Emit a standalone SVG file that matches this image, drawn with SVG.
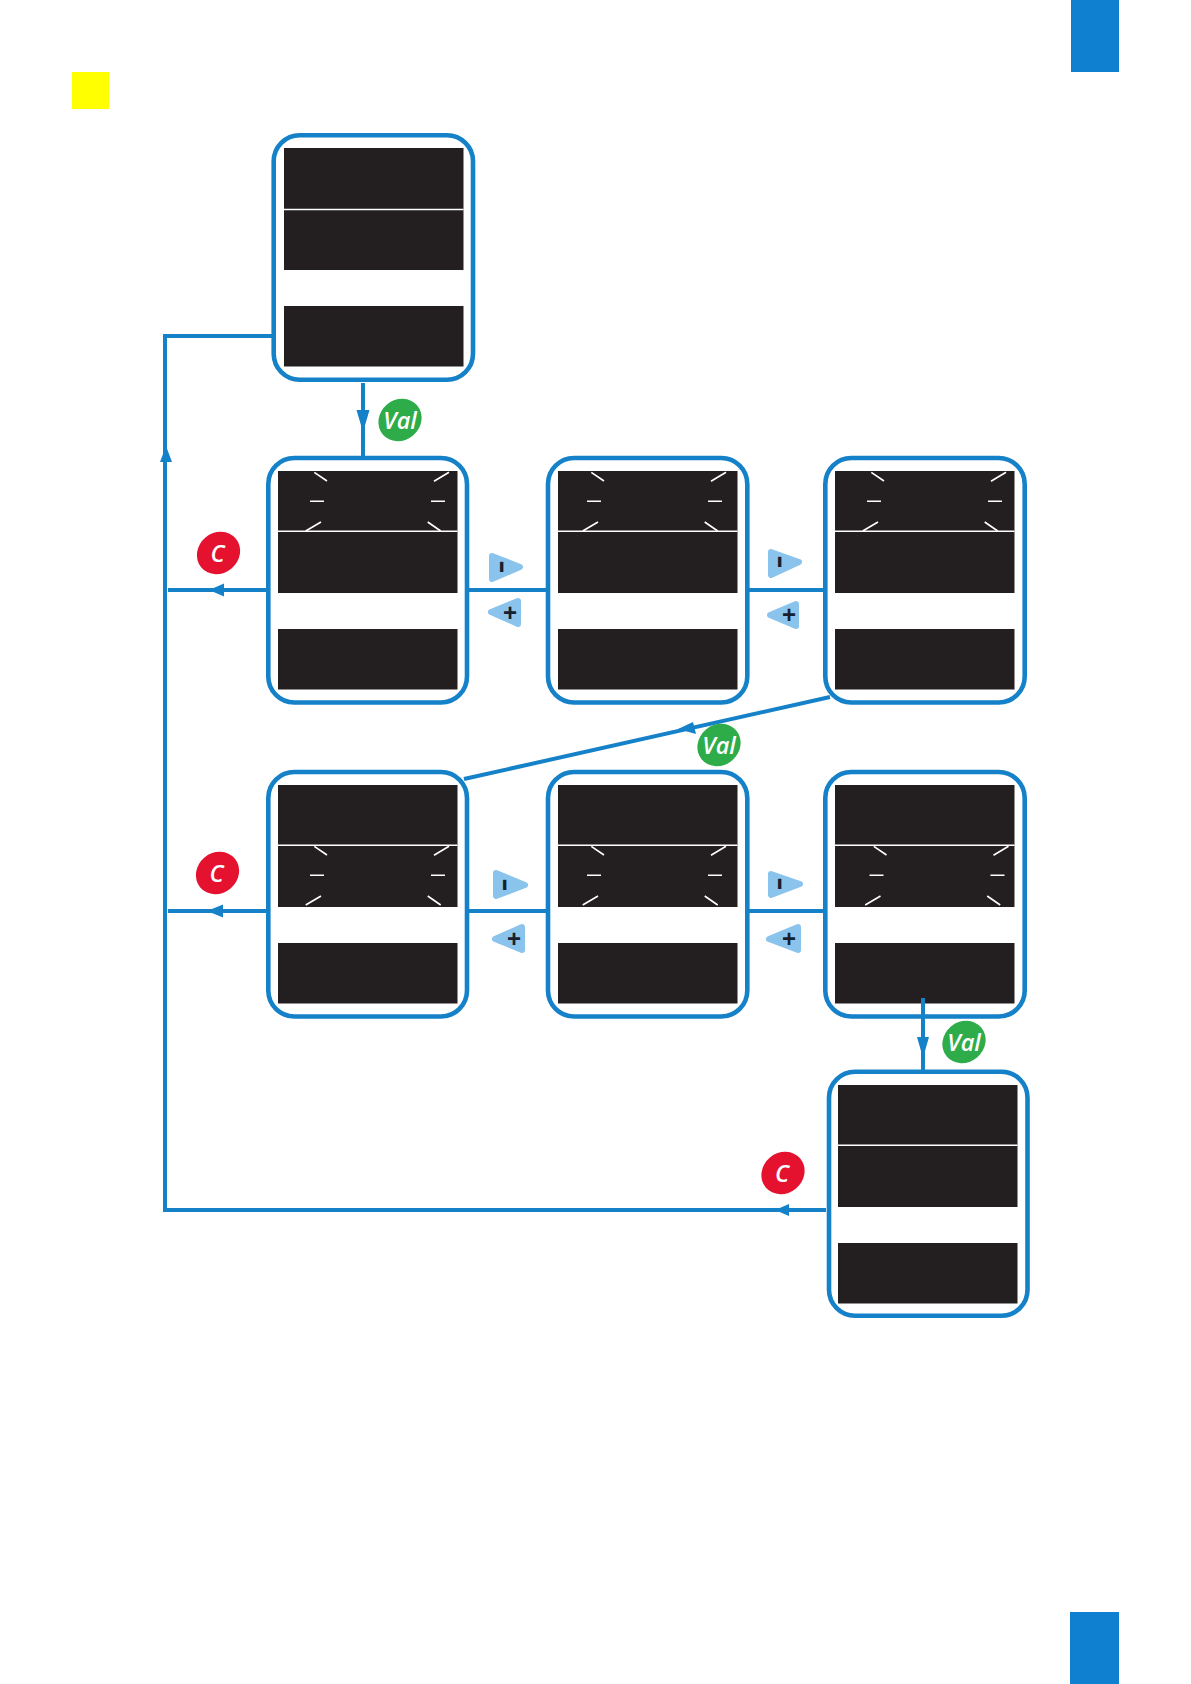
<svg xmlns="http://www.w3.org/2000/svg" width="1191" height="1684" viewBox="0 0 1191 1684">
<style>
.frame{fill:#fff;stroke:#1581c9;stroke-width:4.600}
.lcd{fill:#231f20}
.sep{stroke:#fff;stroke-width:1.400;fill:none}
.tick{stroke:#fff;stroke-width:1.600;fill:none}
.conn{stroke:#1581c9;stroke-width:4;fill:none}
.head{fill:#1581c9}
.green{fill:#2fac4a}
.red{fill:#e4112f}
.tri{fill:#8ac4ec;stroke:#8ac4ec;stroke-width:6;stroke-linejoin:round}
.bt{fill:#fff;font-family:"Open Sans","Noto Sans",sans-serif;font-style:italic;font-weight:600;text-anchor:middle;font-size:23.500px}
.pm{fill:#17202c;font-family:"Liberation Sans",sans-serif;font-weight:700;text-anchor:middle}
</style>
<defs>
<g id="panels">
<rect class="lcd" x="0" y="0" width="179.500" height="122"/>
<rect class="lcd" x="0" y="158" width="179.500" height="60.500"/>
</g>
<g id="screen">
<use href="#panels"/>
<path class="sep" d="M0 60.300H179.500"/>
</g>
<g id="ticks">
<path class="tick" d="M36.300 1.300L49 10M171 1.300L156 10.300M32 30.300H46M153 30.300H167M43 51L27.700 60M149.700 51L162.700 60"/>
</g>
</defs>
<rect x="1071" y="0" width="48" height="72" fill="#0f80cf"/>
<rect x="1070" y="1612" width="49" height="72" fill="#0f80cf"/>
<rect x="72" y="72" width="37" height="37" fill="#ffff00"/>
<g id="connectors">
<path class="conn" d="M273 336H165V1210H826"/>
<path class="conn" d="M363 383V456"/>
<path class="head" d="M356.500 410H369.500L363 432Z"/>
<path class="head" d="M166 446L172 462H160Z"/>
<path class="conn" d="M168 590H266"/>
<path class="head" d="M209 590L224 583.500V596.500Z"/>
<path class="conn" d="M469 590H547M747 590H824"/>
<path class="conn" d="M830 697L464 779"/>
<path class="head" d="M678 729L693 722L696 734Z"/>
<path class="conn" d="M168 911H266"/>
<path class="head" d="M207 911L223 904.500V917.500Z"/>
<path class="conn" d="M469 911H547M747 911H824"/>
<path class="conn" d="M923 998V1070"/>
<path class="head" d="M917 1037H929L923 1058Z"/>
<path class="head" d="M775 1210L789 1204V1216Z"/>
</g>
<g id="node-1"><rect class="frame" x="273.700" y="135.300" width="199.300" height="244.400" rx="26"/><use href="#panels" x="284" y="148"/><path class="sep" d="M284 209.500H463.500"/></g>
<g id="node-2"><rect class="frame" x="268.300" y="458" width="198.700" height="244.500" rx="26"/><use href="#screen" x="278" y="471"/><use href="#ticks" x="278" y="471"/></g>
<g id="node-3"><rect class="frame" x="548" y="458" width="199.300" height="244.500" rx="26"/><use href="#screen" x="558" y="471"/><use href="#ticks" x="555" y="471"/></g>
<g id="node-4"><rect class="frame" x="825.300" y="458" width="199.400" height="244.500" rx="26"/><use href="#screen" x="835" y="471"/><use href="#ticks" x="835" y="471"/></g>
<g id="node-5"><rect class="frame" x="268.300" y="772" width="198.700" height="244.500" rx="26"/><use href="#screen" x="278" y="785"/><use href="#ticks" x="278" y="845"/></g>
<g id="node-6"><rect class="frame" x="548" y="772" width="199.300" height="244.500" rx="26"/><use href="#screen" x="558" y="785"/><use href="#ticks" x="555" y="845"/></g>
<g id="node-7"><rect class="frame" x="825.300" y="772" width="199.400" height="244.500" rx="26"/><use href="#screen" x="835" y="785"/><use href="#ticks" x="837.500" y="845"/></g>
<path class="conn" d="M923 998V1016"/>
<g id="node-8"><rect class="frame" x="829" y="1071.700" width="198.500" height="244" rx="26"/><use href="#screen" x="838" y="1085"/></g>
<g id="badge-val-1"><ellipse class="green" cx="400" cy="420" rx="22.500" ry="20.300" transform="rotate(-40 400 420)"/><text class="bt" x="400" y="429">Val</text></g>
<g id="badge-val-2"><ellipse class="green" cx="719" cy="745" rx="22.500" ry="20.300" transform="rotate(-40 719 745)"/><text class="bt" x="719" y="754">Val</text></g>
<g id="badge-val-3"><ellipse class="green" cx="964" cy="1042" rx="22.500" ry="20.300" transform="rotate(-40 964 1042)"/><text class="bt" x="964" y="1051">Val</text></g>
<g id="badge-c-1"><ellipse class="red" cx="218.500" cy="553" rx="22.500" ry="20.300" transform="rotate(-40 218.500 553)"/><text class="bt" x="217.500" y="562">C</text></g>
<g id="badge-c-2"><ellipse class="red" cx="217.500" cy="873" rx="22.500" ry="20.300" transform="rotate(-40 217.500 873)"/><text class="bt" x="216.500" y="882">C</text></g>
<g id="badge-c-3"><ellipse class="red" cx="783" cy="1173" rx="22.500" ry="20.300" transform="rotate(-40 783 1173)"/><text class="bt" x="782" y="1182">C</text></g>
<g id="btn-minus-1"><path class="tri" d="M492 556L520 567L492 579Z"/><text class="pm" font-size="40" transform="translate(501.500 567) rotate(90) scale(1 .7)" x="0" y="10.800">-</text></g>
<g id="btn-plus-1"><path class="tri" d="M491 612L518 601V624Z"/><text class="pm" font-size="24" x="510" y="621">+</text></g>
<g id="btn-minus-2"><path class="tri" d="M771 552L799 562L771 575Z"/><text class="pm" font-size="40" transform="translate(780 562) rotate(90) scale(1 .7)" x="0" y="10.800">-</text></g>
<g id="btn-plus-2"><path class="tri" d="M770 615L796 604V626Z"/><text class="pm" font-size="24" x="789" y="623">+</text></g>
<g id="btn-minus-3"><path class="tri" d="M496 873L525 885L496 896Z"/><text class="pm" font-size="40" transform="translate(505 885) rotate(90) scale(1 .7)" x="0" y="10.800">-</text></g>
<g id="btn-plus-3"><path class="tri" d="M495 939L522 927V950Z"/><text class="pm" font-size="24" x="514" y="947">+</text></g>
<g id="btn-minus-4"><path class="tri" d="M771 874L800 884L771 895Z"/><text class="pm" font-size="40" transform="translate(780 884) rotate(90) scale(1 .7)" x="0" y="10.800">-</text></g>
<g id="btn-plus-4"><path class="tri" d="M769 939L798 927V950Z"/><text class="pm" font-size="24" x="789" y="947">+</text></g>
</svg>
